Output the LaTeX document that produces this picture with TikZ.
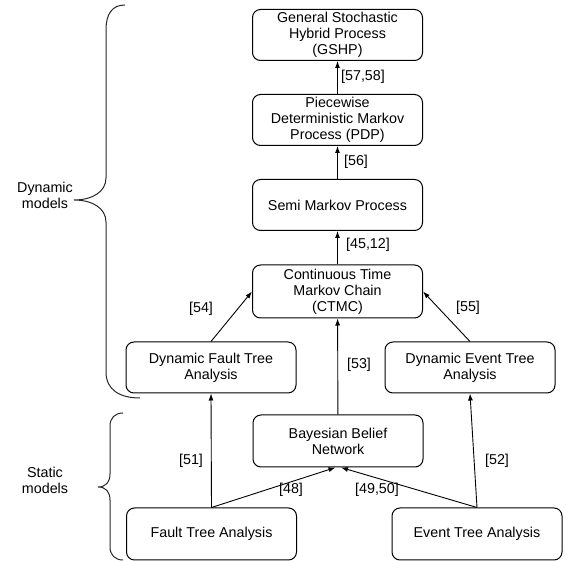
\documentclass[tikz,border=0pt]{standalone}
\usepackage{fontspec}
\setmainfont{Liberation Sans}
\usetikzlibrary{arrows.meta}
\begin{document}
\begin{tikzpicture}[x=1pt,y=-1pt,
  box/.style={draw, line width=1pt, rounded corners=8pt, minimum width=170pt, minimum height=51pt, inner sep=2pt, align=center, font=\fontsize{14.3}{16}\selectfont},
  conn/.style={line width=0.9pt, -{Latex[length=7pt,width=5pt]}},
  lbl/.style={font=\fontsize{14.3}{16}\selectfont, inner sep=0pt},
  brace/.style={line width=1pt, draw=black!85}]
\useasboundingbox (0,0) rectangle (566,561);
\node[box] (gshp) at (337.5,35) {General Stochastic\\Hybrid Process\\(GSHP)};
\node[box] (pdp) at (337.5,120) {Piecewise\\Deterministic Markov\\Process (PDP)};
\node[box] (smp) at (337.5,205) {Semi Markov Process};
\node[box, minimum height=53pt] (ctmc) at (337.5,291.5) {Continuous Time\\Markov Chain\\(CTMC)};
\node[box] (dfta) at (211,367.5) {Dynamic Fault Tree\\Analysis};
\node[box] (deta) at (470,367.5) {Dynamic Event Tree\\Analysis};
\node[box, minimum height=52pt] (bbn) at (338,441) {Bayesian Belief\\Network};
\node[box, minimum height=52pt] (fta) at (211.5,534) {Fault Tree Analysis};
\node[box, minimum height=52pt] (eta) at (477,534) {Event Tree Analysis};
\coordinate (bl) at ([xshift=-2.5pt]bbn.south);
\coordinate (br) at ([xshift=3pt]bbn.south);
\draw[conn] (pdp) -- (gshp);
\draw[conn] (smp) -- (pdp);
\draw[conn] (ctmc) -- (smp);
\draw[conn] (dfta.north) -- (ctmc.west);
\draw[conn] (deta.north) -- (ctmc.east);
\draw[conn] (bbn) -- (ctmc);
\draw[conn] (fta.north) -- (dfta.south);
\draw[conn] (eta.north) -- (deta.south);
\draw[conn] (fta.north) -- (bl);
\draw[conn] (eta.north) -- (br);
\node[lbl] (l1) at (363,77) {[57,58]};
\node[lbl] (l2) at (356,162) {[56]};
\node[lbl] (l3) at (368,245) {[45,12]};
\node[lbl] (l4) at (201,309) {[54]};
\node[lbl] (l5) at (468,308) {[55]};
\node[lbl] (l6) at (359,365) {[53]};
\node[lbl] (l7) at (191,461) {[51]};
\node[lbl] (l8) at (497,461) {[52]};
\node[lbl] (l9) at (291,490) {[48]};
\node[lbl] (l10) at (377,490) {[49,50]};
\node[lbl, align=center] (dyn) at (45,195) {Dynamic\\models};
\node[lbl, align=center] (sta) at (45,480) {Static\\models};
\draw[brace] (125,5) .. controls (112,5) and (106,14) .. (106,30) -- (106,178) .. controls (106,192) and (92,200) .. (74,200) .. controls (92,200) and (106,208) .. (106,222) -- (106,372) .. controls (106,390) and (120,398) .. (140,398);
\draw[brace] (123,413) .. controls (115,413) and (110,418) .. (110,426) -- (110,474) .. controls (110,482) and (106,487) .. (98,487) .. controls (106,487) and (110,492) .. (110,500) -- (110,547) .. controls (110,555) and (115,560) .. (123,560);
\end{tikzpicture}
\end{document}
